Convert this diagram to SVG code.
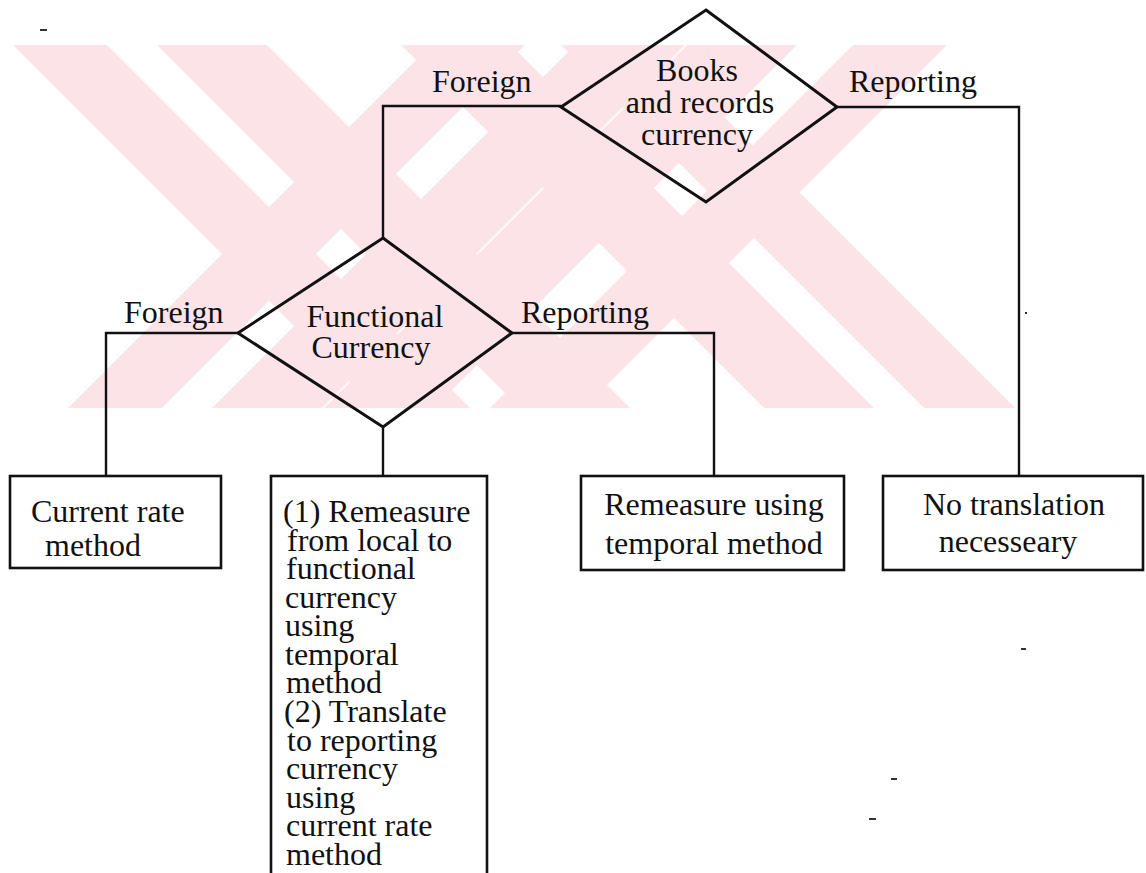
<svg xmlns="http://www.w3.org/2000/svg" width="1146" height="873" viewBox="0 0 1146 873">
<style>
.t{font-family:"Liberation Serif","Times New Roman",serif;font-size:32px;fill:#111}
.m{text-anchor:middle}
.shape{fill:none;stroke:#111;stroke-width:3}
.box{fill:none;stroke:#111;stroke-width:2.6}
.conn{fill:none;stroke:#111;stroke-width:2.4}
.wm{fill:#fce3e7}
</style>
<defs>
<clipPath id="wmclip"><rect x="0" y="45" width="1146" height="363"/></clipPath>
</defs>
<rect width="1146" height="873" fill="#fff"/>
<g id="watermark" clip-path="url(#wmclip)">
  <polygon class="wm" points="13,45 107,45 470,408 376,408"/>
  <polygon class="wm" points="157,45 267,45 630,408 520,408"/>
  <polygon class="wm" points="68,408 162,408 525,45 431,45"/>
  <polygon class="wm" points="212,408 322,408 685,45 575,45"/>
  <polygon class="wm" points="401,45 511,45 874,408 764,408"/>
  <polygon class="wm" points="561,45 652,45 1015,408 924,408"/>
  <polygon class="wm" points="324,408 434,408 797,45 687,45"/>
  <polygon class="wm" points="490,408 584,408 947,45 853,45"/>
</g>
<g id="connectors">
  <polyline class="conn" points="561,106 383,106 383,238"/>
  <polyline class="conn" points="837,107 1019,107 1019,476"/>
  <polyline class="conn" points="238,333 106,333 106,476"/>
  <polyline class="conn" points="512,333 714,333 714,476"/>
  <line class="conn" x1="383" y1="427" x2="383" y2="476"/>
</g>
<g id="labels">
  <text class="t" x="432" y="92">Foreign</text>
  <text class="t" x="849" y="92">Reporting</text>
  <text class="t" x="124" y="323">Foreign</text>
  <text class="t" x="521" y="323">Reporting</text>
</g>
<g id="books">
  <polygon class="shape" points="706,10 837,107 706,202 561,107"/>
  <text class="t m"><tspan x="697" y="81">Books</tspan><tspan x="700" y="113">and records</tspan><tspan x="697" y="145">currency</tspan></text>
</g>
<g id="functional">
  <polygon class="shape" points="383,238 512,333 383,427 238,333"/>
  <text class="t m"><tspan x="375" y="327">Functional</tspan><tspan x="371" y="358">Currency</tspan></text>
</g>
<g id="current-rate">
  <rect class="box" x="10" y="476" width="211" height="92"/>
  <text class="t"><tspan x="31" y="522">Current rate</tspan><tspan x="45" y="556">method</tspan></text>
</g>
<g id="two-step">
  <rect class="box" x="271" y="476" width="216" height="420"/>
  <text class="t"><tspan x="283" y="522">(1) Remeasure</tspan><tspan x="287" y="551">from local to</tspan><tspan x="286" y="579">functional</tspan><tspan x="285" y="608">currency</tspan><tspan x="285" y="636">using</tspan><tspan x="285" y="665">temporal</tspan><tspan x="286" y="693">method</tspan><tspan x="284" y="722">(2) Translate</tspan><tspan x="287" y="751">to reporting</tspan><tspan x="286" y="779">currency</tspan><tspan x="286" y="808">using</tspan><tspan x="286" y="836">current rate</tspan><tspan x="286" y="865">method</tspan></text>
</g>
<g id="temporal">
  <rect class="box" x="581" y="476" width="263" height="94"/>
  <text class="t m"><tspan x="714" y="515">Remeasure using</tspan><tspan x="714" y="554">temporal method</tspan></text>
</g>
<g id="no-translation">
  <rect class="box" x="883" y="476" width="260" height="94"/>
  <text class="t m"><tspan x="1014" y="515">No translation</tspan><tspan x="1008" y="552">necesseary</tspan></text>
</g>
<g id="specks" fill="#333">
  <rect x="40" y="29" width="7" height="2"/>
  <rect x="1021" y="648" width="5" height="2"/>
  <rect x="891" y="778" width="6" height="2"/>
  <rect x="869" y="818" width="7" height="2"/>
  <rect x="1025" y="312" width="2" height="2"/>
</g>
</svg>
